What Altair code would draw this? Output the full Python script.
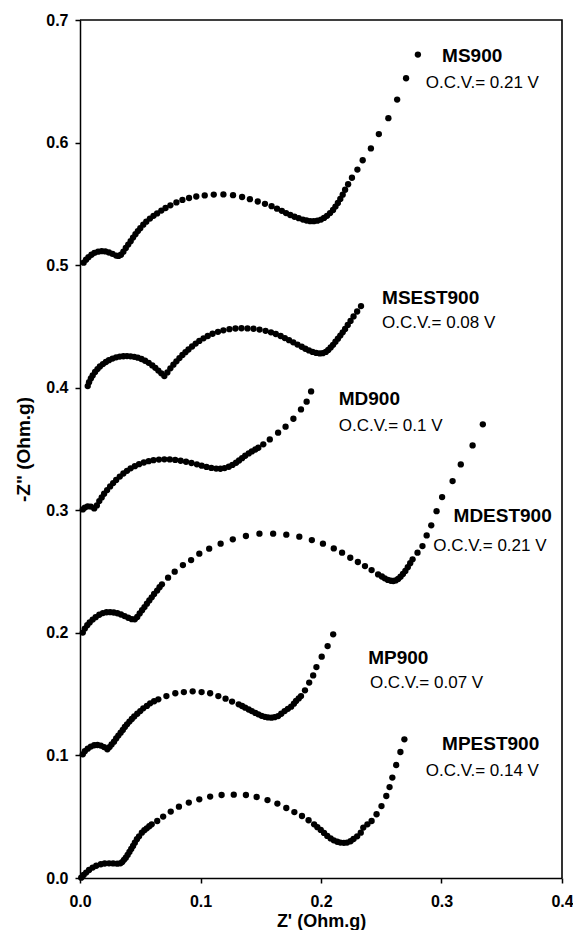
import altair as alt
import pandas as pd

# ---------------- data ----------------
ms900 = [(0.003,0.502),(0.005,0.5045),(0.007,0.5065),(0.0095,0.5085),(0.012,0.5100),(0.015,0.5110),
         (0.018,0.5114),(0.021,0.5112),(0.024,0.5103),(0.027,0.5092),(0.030,0.5078),(0.032,0.5075),
         (0.034,0.5085),(0.036,0.5110),(0.038,0.5140),(0.040,0.5168),(0.042,0.5195),(0.044,0.5225),
         (0.046,0.5252),(0.048,0.5278),(0.050,0.5302),(0.0525,0.5330),(0.055,0.5355),(0.058,0.5380),
         (0.061,0.5402),(0.064,0.5422),(0.0675,0.5445),(0.071,0.5466),(0.075,0.5488),(0.080,0.5512),
         (0.085,0.5532),(0.0905,0.5548),(0.0965,0.5560),(0.1035,0.5569),(0.111,0.5576),(0.119,0.5577),
         (0.127,0.5571),(0.1345,0.5556),(0.141,0.5538),(0.1475,0.5519),(0.1535,0.5500),(0.159,0.5481),
         (0.1635,0.5461),(0.1675,0.5443),(0.171,0.5425),(0.1745,0.5409),(0.178,0.5395),(0.1815,0.5383),
         (0.185,0.5372),(0.188,0.5364),(0.191,0.5359),(0.194,0.5359),(0.197,0.5363),(0.200,0.5372),
         (0.2025,0.5385),(0.205,0.5402),(0.2075,0.5425),(0.2100,0.5450),(0.2120,0.5478),(0.2140,0.5508),
         (0.2160,0.5540),(0.2180,0.5575),(0.2200,0.5615),(0.2225,0.5660),(0.2257,0.5713),(0.2302,0.5780),
         (0.2346,0.5856),(0.2414,0.5952),(0.2480,0.6069),(0.2559,0.6199),(0.2632,0.6351),(0.2706,0.6525),
         (0.2804,0.6718)]

msest900 = [(0.0064,0.4013),(0.0075,0.4045),(0.0090,0.4075),(0.0105,0.4100),(0.0125,0.4128),(0.0145,0.4152),
            (0.0165,0.4173),(0.019,0.4193),(0.0215,0.4210),(0.024,0.4225),(0.027,0.4238),(0.030,0.4248),
            (0.033,0.4254),(0.036,0.4257),(0.039,0.4258),(0.042,0.4256),(0.045,0.4252),(0.048,0.4245),
            (0.051,0.4234),(0.054,0.4220),(0.057,0.4203),(0.060,0.4182),(0.0625,0.4162),(0.065,0.4140),
            (0.0675,0.4117),(0.070,0.4095),(0.0725,0.4125),(0.075,0.4158),(0.0775,0.4188),(0.080,0.4215),
            (0.0825,0.4242),(0.085,0.4267),(0.0875,0.4290),(0.090,0.4312),(0.093,0.4336),(0.096,0.4360),
            (0.099,0.4382),(0.1025,0.4403),(0.106,0.4422),(0.110,0.4440),(0.1145,0.4456),(0.119,0.4468),
            (0.124,0.4478),(0.129,0.4483),(0.134,0.4485),(0.139,0.4484),(0.144,0.4481),(0.149,0.4474),
            (0.154,0.4464),(0.1585,0.4452),(0.1625,0.4438),(0.1665,0.4422),(0.170,0.4405),(0.1735,0.4388),
            (0.177,0.4370),(0.1805,0.4352),(0.184,0.4334),(0.187,0.4318),(0.190,0.4304),(0.193,0.4292),
            (0.196,0.4284),(0.199,0.4280),(0.2015,0.4282),(0.204,0.4292),(0.206,0.4308),(0.208,0.4328),
            (0.210,0.4350),(0.212,0.4375),(0.2140,0.4400),(0.2160,0.4425),(0.2180,0.4452),(0.2200,0.4480),
            (0.2222,0.4512),(0.2245,0.4545),(0.2270,0.4582),(0.2300,0.4622),(0.2332,0.4666)]

md900 = [(0.0023,0.3007),(0.0040,0.3022),(0.0064,0.3032),(0.0090,0.3030),(0.0118,0.3015),(0.0140,0.3040),
         (0.0160,0.3075),(0.0180,0.3105),(0.0200,0.3135),(0.0225,0.3165),(0.0250,0.3195),(0.0275,0.3222),
         (0.0300,0.3248),(0.0330,0.3275),(0.0360,0.3300),(0.0390,0.3322),(0.0420,0.3342),(0.0455,0.3360),
         (0.0490,0.3376),(0.0530,0.3390),(0.0570,0.3401),(0.0610,0.3409),(0.0655,0.3414),(0.0700,0.3416),
         (0.0745,0.3415),(0.0790,0.3411),(0.0835,0.3404),(0.0880,0.3396),(0.0925,0.3386),(0.0970,0.3375),
         (0.1010,0.3364),(0.1050,0.3354),(0.1090,0.3346),(0.1130,0.3340),(0.1165,0.3339),(0.1200,0.3344),
         (0.1235,0.3355),(0.1265,0.3370),(0.1295,0.3388),(0.1320,0.3406),(0.1345,0.3425),(0.1371,0.3445),
         (0.1400,0.3464),(0.1426,0.3480),(0.1455,0.3496),(0.1480,0.3510),(0.1521,0.3538),(0.1575,0.3578),
         (0.1644,0.3633),(0.1706,0.3682),(0.1771,0.3747),(0.1834,0.3823),(0.1881,0.3886),(0.1918,0.3970)]

mdest900 = [(0.0023,0.2002),(0.0040,0.2035),(0.0060,0.2062),(0.0080,0.2085),(0.0105,0.2108),(0.0130,0.2128),
            (0.0160,0.2148),(0.0190,0.2161),(0.0220,0.2168),(0.0250,0.2169),(0.0280,0.2166),(0.0310,0.2160),
            (0.0340,0.2150),(0.0370,0.2137),(0.0400,0.2123),(0.0430,0.2112),(0.0455,0.2110),(0.0475,0.2130),
            (0.0495,0.2158),(0.0515,0.2185),(0.0535,0.2210),(0.0555,0.2238),(0.0575,0.2265),(0.0595,0.2290),
            (0.0615,0.2318),(0.0640,0.2345),(0.0660,0.2372),(0.0680,0.2396),(0.0731,0.2450),(0.0786,0.2499),
            (0.0854,0.2553),(0.0922,0.2594),(0.0990,0.2646),(0.1072,0.2687),(0.1167,0.2728),(0.1268,0.2763),
            (0.1377,0.2790),(0.1489,0.2809),(0.1603,0.2809),(0.1712,0.2801),(0.1820,0.2785),(0.1924,0.2757),
            (0.2016,0.2728),(0.2106,0.2689),(0.2175,0.2654),(0.2243,0.2613),(0.2306,0.2578),(0.2365,0.2545),
            (0.2420,0.2512),(0.2474,0.2477),(0.2505,0.2460),(0.2529,0.2445),(0.2555,0.2432),(0.2580,0.2425),
            (0.2600,0.2423),(0.2620,0.2428),(0.2640,0.2440),(0.2660,0.2458),(0.2680,0.2480),(0.2700,0.2505),
            (0.2720,0.2535),(0.2740,0.2568),(0.2760,0.2600),(0.2801,0.2654),(0.2842,0.2708),(0.2877,0.2795),
            (0.2915,0.2877),(0.2959,0.2993),(0.3005,0.3108),(0.3092,0.3238),(0.3160,0.3374),(0.3258,0.3529),
            (0.3343,0.3701)]

mp900 = [(0.0023,0.1009),(0.0040,0.1035),(0.0064,0.1055),(0.0090,0.1072),(0.0118,0.1083),(0.0145,0.1085),
         (0.0173,0.1080),(0.0200,0.1068),(0.0227,0.1050),(0.0245,0.1068),(0.0262,0.1090),(0.0282,0.1112),
         (0.0300,0.1138),(0.0318,0.1162),(0.0337,0.1186),(0.0355,0.1208),(0.0372,0.1232),(0.0390,0.1254),
         (0.0410,0.1276),(0.0430,0.1297),(0.0450,0.1318),(0.0475,0.1340),(0.0500,0.1362),(0.0525,0.1384),
         (0.0555,0.1404),(0.0582,0.1425),(0.0615,0.1442),(0.0650,0.1458),(0.0717,0.1484),(0.0791,0.1507),
         (0.0862,0.1517),(0.0935,0.1523),(0.1009,0.1517),(0.1080,0.1507),(0.1148,0.1484),(0.1208,0.1463),
         (0.1262,0.1439),(0.1317,0.1417),(0.1345,0.1403),(0.1371,0.1390),(0.1400,0.1375),(0.1426,0.1362),
         (0.1455,0.1347),(0.1480,0.1335),(0.1507,0.1323),(0.1534,0.1315),(0.1560,0.1310),(0.1589,0.1308),
         (0.1615,0.1312),(0.1644,0.1321),(0.1670,0.1340),(0.1698,0.1362),(0.1725,0.1380),(0.1752,0.1398),
         (0.1775,0.1422),(0.1793,0.1444),(0.1815,0.1465),(0.1834,0.1484),(0.1867,0.1531),(0.1902,0.1594),
         (0.1935,0.1653),(0.1962,0.1721),(0.2006,0.1806),(0.2055,0.1892),(0.2101,0.1988)]

mpest900 = [(0.0010,0.0003),(0.0030,0.0025),(0.0051,0.0044),(0.0075,0.0065),(0.0105,0.0085),(0.0135,0.0100),
            (0.0173,0.0112),(0.0205,0.0118),(0.0241,0.0120),(0.0275,0.0119),(0.0309,0.0117),(0.0335,0.0120),
            (0.0350,0.0130),(0.0365,0.0148),(0.0380,0.0165),(0.0395,0.0188),(0.0410,0.0212),(0.0425,0.0237),
            (0.0440,0.0262),(0.0455,0.0288),(0.0472,0.0316),(0.0490,0.0340),(0.0513,0.0370),(0.0534,0.0390),
            (0.0554,0.0405),(0.0575,0.0422),(0.0595,0.0438),(0.0641,0.0465),(0.0690,0.0501),(0.0753,0.0542),
            (0.0821,0.0582),(0.0903,0.0615),(0.0990,0.0642),(0.1080,0.0664),(0.1175,0.0677),(0.1276,0.0680),
            (0.1377,0.0677),(0.1466,0.0661),(0.1556,0.0636),(0.1638,0.0607),(0.1712,0.0571),(0.1779,0.0538),
            (0.1842,0.0506),(0.1897,0.0471),(0.1943,0.0438),(0.1970,0.0415),(0.1998,0.0392),(0.2025,0.0368),
            (0.2052,0.0343),(0.2080,0.0323),(0.2106,0.0307),(0.2135,0.0296),(0.2161,0.0289),(0.2190,0.0287),
            (0.2216,0.0289),(0.2245,0.0300),(0.2270,0.0318),(0.2300,0.0340),(0.2330,0.0370),(0.2351,0.0411),
            (0.2385,0.0438),(0.2420,0.0465),(0.2461,0.0520),(0.2502,0.0587),(0.2542,0.0669),(0.2569,0.0742),
            (0.2592,0.0819),(0.2624,0.0922),(0.2659,0.1028),(0.2692,0.1131)]

series_names = ["MS900", "MSEST900", "MD900", "MDEST900", "MP900", "MPEST900"]
series_points = [ms900, msest900, md900, mdest900, mp900, mpest900]

# labels: name, x, y  and  voltage text, x, y
name_x = [0.3005, 0.2507, 0.2147, 0.3100, 0.2392, 0.3005]
name_y = [0.6705, 0.4734, 0.3905, 0.2953, 0.1798, 0.1090]
ocv_text = ["O.C.V.= 0.21 V", "O.C.V.= 0.08 V", "O.C.V.= 0.1 V",
            "O.C.V.= 0.21 V", "O.C.V.= 0.07 V", "O.C.V.= 0.14 V"]
ocv_x = [0.2869, 0.2507, 0.2147, 0.2932, 0.2406, 0.2869]
ocv_y = [0.6488, 0.4530, 0.3687, 0.2708, 0.1594, 0.0873]

x_ticks = [0.0, 0.1, 0.2, 0.3, 0.4]
y_ticks = [0.0, 0.1, 0.2, 0.3, 0.4, 0.5, 0.6, 0.7]
x_range = [0.0, 0.4]
y_range = [0.0, 0.7]

# ---------------- tables ----------------
rows = []
for name, pts in zip(series_names, series_points):
    for x, y in pts:
        rows.append({"series": name, "zr": x, "zi": y})
pts_df = pd.DataFrame(rows)
name_df = pd.DataFrame({"label": series_names, "zr": name_x, "zi": name_y})
ocv_df = pd.DataFrame({"label": ocv_text, "zr": ocv_x, "zi": ocv_y})
# plot box top-left -> top-right -> bottom-right corners (axis limits)
box_df = pd.DataFrame({"zr": [x_range[0], x_range[1], x_range[1]],
                       "zi": [y_range[1], y_range[1], y_range[0]],
                       "k": [0, 1, 2]})

FONT = "Liberation Sans"
W, H = 482, 858

xscale = alt.Scale(domain=x_range, nice=False, zero=False)
yscale = alt.Scale(domain=y_range, nice=False, zero=False)

xaxis = alt.Axis(title="Z' (Ohm.g)", values=x_ticks, format=".1f", grid=False,
                 titleX=W / 2, titleY=43, titleBaseline="middle", titleAlign="center",
                 labelPadding=10, labelFlush=False)
yaxis = alt.Axis(title='-Z" (Ohm.g)', values=y_ticks, format=".1f", grid=False,
                 titleX=-57, titleY=429, titleBaseline="middle", titleAlign="center",
                 titleAngle=270, labelPadding=7, labelFlush=False)

points = alt.Chart(pts_df).mark_circle(size=40, color="black", opacity=1).encode(
    x=alt.X("zr:Q", scale=xscale, axis=xaxis),
    y=alt.Y("zi:Q", scale=yscale, axis=yaxis),
    detail="series:N",
)

# frame: a polyline along the top and right edges of the plot box
box = alt.Chart(box_df).mark_line(color="black", strokeWidth=1.6, opacity=1).encode(
    x=alt.X("zr:Q", scale=xscale),
    y=alt.Y("zi:Q", scale=yscale),
    order="k:Q",
)

names = alt.Chart(name_df).mark_text(align="left", baseline="middle", font=FONT,
                                      fontWeight="bold", fontSize=19, color="black").encode(
    x=alt.X("zr:Q", scale=xscale), y=alt.Y("zi:Q", scale=yscale), text="label:N")

ocvs = alt.Chart(ocv_df).mark_text(align="left", baseline="middle", font=FONT,
                                    fontSize=17, color="black").encode(
    x=alt.X("zr:Q", scale=xscale), y=alt.Y("zi:Q", scale=yscale), text="label:N")

chart = alt.layer(points, box, names, ocvs).properties(
    width=W, height=H,
    autosize=alt.AutoSizeParams(type="none"),
    padding={"left": 72, "top": 12, "right": 11, "bottom": 52},
).configure_view(
    stroke=None
).configure_axis(
    domainColor="black", domainWidth=1.5, tickColor="black", tickWidth=1.5, tickSize=5,
    labelFont=FONT, labelFontWeight="bold", labelFontSize=16, labelColor="black",
    titleFont=FONT, titleFontWeight="bold", titleColor="black",
).configure_axisX(titleFontSize=18).configure_axisY(titleFontSize=19)

chart.save("out.html", embed_options={"renderer": "svg", "actions": False})
